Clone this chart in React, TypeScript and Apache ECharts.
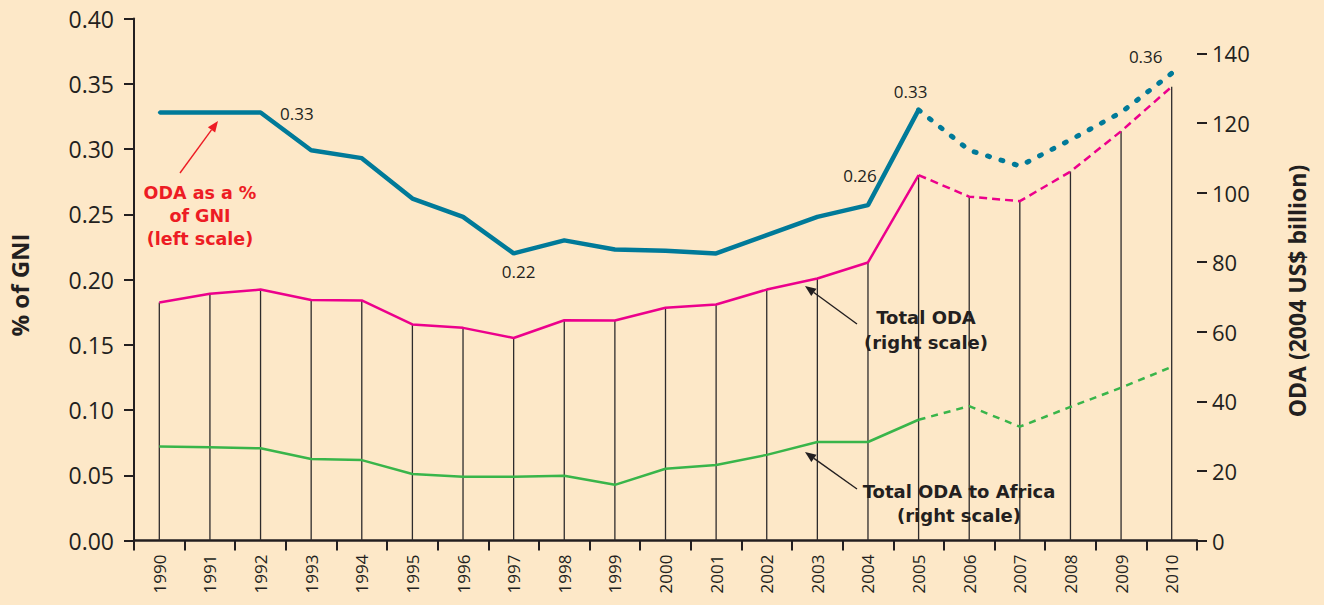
import React, { useEffect, useRef } from 'react';
import * as echarts from 'echarts';

const years = ['1990','1991','1992','1993','1994','1995','1996','1997','1998','1999','2000','2001','2002','2003','2004','2005','2006','2007','2008','2009','2010'];
// ODA as % of GNI (left scale)
const odaGniPct = [0.328,0.328,0.328,0.299,0.293,0.262,0.248,0.220,0.230,0.223,0.222,0.220,0.234,0.248,0.257,0.330,0.299,0.287,0.307,0.328,0.358];
// Total ODA, 2004 US$ billion (right scale)
const totalOda = [68.4,70.9,72.1,69.1,69.0,62.1,61.1,58.2,63.3,63.2,66.9,67.8,72.1,75.3,79.9,105.0,98.8,97.5,106.0,117.6,130.4];
// Total ODA to Africa, 2004 US$ billion (right scale)
const africaOda = [27.0,26.8,26.5,23.4,23.1,19.1,18.3,18.3,18.6,16.0,20.6,21.7,24.6,28.3,28.3,34.7,38.6,32.7,38.4,43.9,49.9];
// index of last actual year (projections afterwards)
const lastActual = 15;
const leftTicks = [0, 0.05, 0.1, 0.15, 0.2, 0.25, 0.3, 0.35, 0.4];
const rightTicks = [0, 20, 40, 60, 80, 100, 120, 140];
// labelled points on the % of GNI line
const labelledYears = ['1992', '1997', '2004', '2005', '2010'];

const BG = '#FDE8C8';
const INK = '#231f20';
const BLUE = '#007a99';
const PINK = '#ec008c';
const GREEN = '#39b54a';
const RED = '#ed1c24';
const FONT = '"Open Sans", "DejaVu Sans", sans-serif';
const NOTE_FONT = '"DejaVu Sans", "Open Sans", sans-serif';

const labelPlacement: Record<string, any> = {
  '1992': { position: 'right', distance: 18, offset: [0, 1] },
  '1997': { position: 'bottom', distance: 8, offset: [5, 0] },
  '2004': { position: 'top', distance: 20, offset: [-8, 0] },
  '2005': { position: 'top', distance: 8, offset: [-8, 0] },
  '2010': { position: 'top', distance: 6, offset: [-26, 0] },
};

function arrow(x1: number, y1: number, x2: number, y2: number, color: string) {
  const ang = Math.atan2(y2 - y1, x2 - x1);
  const L = 11, W = 4.5;
  const bx = x2 - L * Math.cos(ang), by = y2 - L * Math.sin(ang);
  const px = -Math.sin(ang), py = Math.cos(ang);
  return [
    { type: 'line', shape: { x1, y1, x2: bx, y2: by }, style: { stroke: color, lineWidth: 1.4 }, z: 20 },
    { type: 'polygon', shape: { points: [[x2, y2], [bx + px * W, by + py * W], [bx - px * W, by - py * W]] }, style: { fill: color }, z: 20 },
  ];
}

function textBlock(x: number, y: number, lines: string[], color: string, size: number, lh: number) {
  return {
    type: 'text', x, y, z: 20,
    style: {
      text: lines.join('\n'), fill: color, fontSize: size, fontWeight: 'bold', fontFamily: NOTE_FONT,
      lineHeight: lh, textAlign: 'center', textVerticalAlign: 'top',
    },
  };
}

const split = (arr: number[], projected: boolean) =>
  arr.map((v, i) => (projected ? (i >= lastActual ? v : null) : (i <= lastActual ? v : null)));

export default function App() {
  const ref = useRef<HTMLDivElement>(null);
  useEffect(() => {
    if (!ref.current) return;
    const chart = echarts.init(ref.current, null, { renderer: 'svg' });

    const lbl = (yr: string) => ({
      show: true,
      formatter: (p: any) => Number(p.value).toFixed(2),
      color: INK, fontSize: 17, fontFamily: FONT,
      ...labelPlacement[yr],
    });

    const gniSolid = split(odaGniPct, false).map((v, i) =>
      v != null && labelledYears.includes(years[i]) ? { value: v, label: lbl(years[i]) } : v);

    const option: any = {
      animation: false,
      backgroundColor: BG,
      grid: { left: 134, right: 127, top: 18.5, bottom: 64.5 },
      xAxis: {
        type: 'category',
        data: years,
        boundaryGap: true,
        axisLine: { lineStyle: { color: INK, width: 2.5 } },
        axisTick: { show: true, length: 10, lineStyle: { color: INK, width: 2 } },
        axisLabel: { rotate: 90, fontSize: 17, fontFamily: FONT, color: INK, margin: 14, interval: 0 },
        splitLine: { show: false },
      },
      yAxis: [
        {
          type: 'value', min: 0, max: 0.4, interval: 0.05, position: 'left',
          axisLine: { show: true, lineStyle: { color: INK, width: 2 } },
          axisTick: { show: true, length: 10, lineStyle: { color: INK, width: 2 } },
          axisLabel: { formatter: (v: number) => v.toFixed(2), fontSize: 23, fontFamily: FONT, color: INK, margin: 20, customValues: leftTicks },
          splitLine: { show: false },
        },
        {
          type: 'value', min: 0, max: 150, interval: 10, position: 'right',
          axisLine: { show: false },
          axisTick: { show: true, length: 10, lineStyle: { color: INK, width: 2 }, customValues: rightTicks },
          axisLabel: { fontSize: 22, fontFamily: FONT, color: INK, margin: 15, customValues: rightTicks },
          splitLine: { show: false },
        },
      ],
      graphic: [
        {
          type: 'text', x: 19, y: 285, rotation: Math.PI / 2, z: 20,
          style: { text: '% of GNI', fill: INK, fontSize: 24, fontWeight: 'bold', fontFamily: FONT, textAlign: 'center', textVerticalAlign: 'middle' },
        },
        {
          type: 'text', x: 1297, y: 291, rotation: Math.PI / 2, z: 20,
          style: { text: 'ODA (2004 US$ billion)', fill: INK, fontSize: 23, fontWeight: 'bold', fontFamily: FONT, textAlign: 'center', textVerticalAlign: 'middle' },
        },
        textBlock(200, 181.5, ['ODA as a %', 'of GNI', '(left scale)'], RED, 17.5, 23),
        ...arrow(180, 173, 218, 121, RED),
        textBlock(926, 305, ['Total ODA', '(right scale)'], INK, 18, 25),
        ...arrow(857, 324, 805, 286, INK),
        textBlock(959, 479, ['Total ODA to Africa', '(right scale)'], INK, 18, 24),
        ...arrow(857, 489, 805, 452, INK),
      ],
      series: [
        {
          name: 'drop lines', type: 'bar', yAxisIndex: 1, data: totalOda, barWidth: 1.3,
          itemStyle: { color: '#2e2b2c' }, silent: true, z: 1,
        },
        {
          name: 'Total ODA', type: 'line', yAxisIndex: 1, data: split(totalOda, false),
          showSymbol: false, lineStyle: { color: PINK, width: 2.5 }, z: 3,
        },
        {
          name: 'Total ODA (projected)', type: 'line', yAxisIndex: 1, data: split(totalOda, true),
          showSymbol: false, lineStyle: { color: PINK, width: 2.5, type: [8, 5] }, z: 3,
        },
        {
          name: 'Total ODA to Africa', type: 'line', yAxisIndex: 1, data: split(africaOda, false),
          showSymbol: false, lineStyle: { color: GREEN, width: 2.5 }, z: 3,
        },
        {
          name: 'Total ODA to Africa (projected)', type: 'line', yAxisIndex: 1, data: split(africaOda, true),
          showSymbol: false, lineStyle: { color: GREEN, width: 2.5, type: [7, 6] }, z: 3,
        },
        {
          name: 'ODA as % of GNI', type: 'line', yAxisIndex: 0, data: gniSolid,
          showSymbol: true, showAllSymbol: true, symbol: 'circle', symbolSize: 3,
          itemStyle: { color: BLUE }, lineStyle: { color: BLUE, width: 4.5 }, z: 5,
        },
        {
          name: 'ODA as % of GNI (projected)', type: 'line', yAxisIndex: 0, data: split(odaGniPct, true),
          showSymbol: false, lineStyle: { color: BLUE, width: 5, type: [2, 12], cap: 'round' }, z: 5,
        },
        {
          name: 'projection end label', type: 'scatter', yAxisIndex: 0,
          data: odaGniPct.map((v, i) => (i === odaGniPct.length - 1 ? { value: v, label: lbl(years[i]) } : null)),
          symbol: 'circle', symbolSize: 4, itemStyle: { color: BLUE, opacity: 1 }, z: 6, silent: true,
        },
      ],
    };
    chart.setOption(option);
    return () => chart.dispose();
  }, []);
  return <div ref={ref} style={{ position: 'fixed', left: 0, top: 0, width: 1324, height: 605 }} />;
}
